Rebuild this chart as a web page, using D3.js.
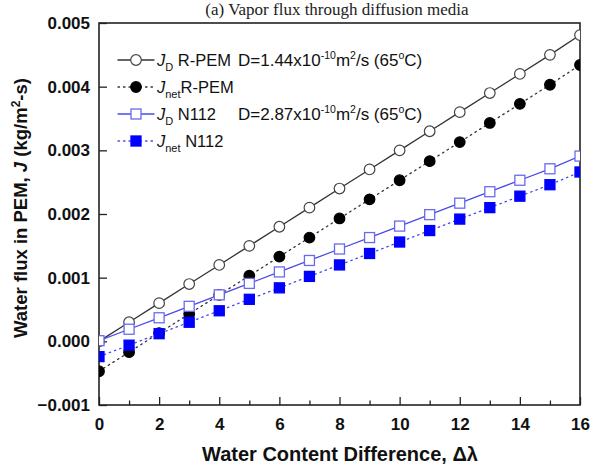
<!DOCTYPE html>
<html><head><meta charset="utf-8">
<script src="https://cdn.jsdelivr.net/npm/d3@7/dist/d3.min.js"></script>
<style>
body{margin:0;background:#fff;}
svg{display:block;font-family:"Liberation Sans",Arial,sans-serif;}
</style></head>
<body><svg id="c" width="592" height="467"></svg>
<script>
const xValues = [0,1,2,3,4,5,6,7,8,9,10,11,12,13,14,15,16];
const jdRPEM  = [0.00000,0.00030,0.00060,0.00090,0.00120,0.00150,0.00180,0.00210,0.00240,0.00270,0.00300,0.00330,0.00360,0.00390,0.00420,0.00450,0.00481];
const jnetRPEM= [-0.00047,-0.00017,0.00013,0.00043,0.00073,0.00103,0.00133,0.00163,0.00193,0.00223,0.00253,0.00283,0.00313,0.00343,0.00373,0.00403,0.00434];
const jdN112  = [0.00001,0.00019,0.00037,0.00055,0.00073,0.00091,0.00109,0.00127,0.00145,0.00163,0.00181,0.00199,0.00217,0.00235,0.00253,0.00271,0.00291];
const jnetN112= [-0.00024,-0.00006,0.00012,0.00030,0.00048,0.00066,0.00084,0.00102,0.00120,0.00138,0.00156,0.00174,0.00192,0.00210,0.00228,0.00246,0.00266];
const xTicks = [0,2,4,6,8,10,12,14,16];
const xMinor = [1,3,5,7,9,11,13,15];
const yTicks = [-0.001,0.000,0.001,0.002,0.003,0.004,0.005];

const svg = d3.select("#c");
const L=99, R=580, T=23, B=405;
const x = d3.scaleLinear().domain([0,16]).range([L,R]);
const y = d3.scaleLinear().domain([-0.001,0.005]).range([B,T]);

// title
svg.append("text").attr("x",337).attr("y",15).attr("text-anchor","middle")
  .attr("font-family","'Liberation Serif','Times New Roman',serif").attr("font-size",17)
  .attr("fill","#222").text("(a)  Vapor flux through diffusion media");

// axes
const xAxis = d3.axisBottom(x).tickValues(xTicks).tickSize(-8).tickPadding(13).tickFormat(d3.format("d"));
const gx = svg.append("g").attr("transform",`translate(0,${B})`).call(xAxis);
gx.select(".domain").remove();
gx.selectAll("text").attr("font-size",17).attr("font-weight","bold").attr("fill","#111").attr("font-family","'Liberation Sans',Arial,sans-serif");
gx.selectAll("line").attr("stroke","#222").attr("stroke-width",1.3);
const gxm = svg.append("g").attr("transform",`translate(0,${B})`)
  .call(d3.axisBottom(x).tickValues(xMinor).tickSize(-4.5).tickFormat(""));
gxm.select(".domain").remove();
gxm.selectAll("line").attr("stroke","#222").attr("stroke-width",1.3);

const yAxis = d3.axisLeft(y).tickValues(yTicks).tickSize(-8).tickPadding(9).tickFormat(d3.format(".3f"));
const gy = svg.append("g").attr("transform",`translate(${L},0)`).call(yAxis);
gy.select(".domain").remove();
gy.selectAll("text").attr("font-size",17).attr("font-weight","bold").attr("fill","#111").attr("font-family","'Liberation Sans',Arial,sans-serif");
gy.selectAll("line").attr("stroke","#222").attr("stroke-width",1.3);

// frame
svg.append("rect").attr("x",L).attr("y",T).attr("width",R-L).attr("height",B-T)
  .attr("fill","none").attr("stroke","#222").attr("stroke-width",1.6);

// axis titles
svg.append("text").attr("x",340).attr("y",461).attr("text-anchor","middle")
  .attr("font-size",20).attr("font-weight","bold").attr("fill","#111")
  .text("Water Content Difference, Δλ");
const yt = svg.append("text").attr("transform","translate(27,208) rotate(-90)")
  .attr("text-anchor","middle").attr("font-size",18.5).attr("font-weight","bold").attr("fill","#111");
yt.append("tspan").text("Water flux in PEM, ");
yt.append("tspan").attr("font-style","italic").text("J");
yt.append("tspan").text("  (kg/m");
yt.append("tspan").attr("font-size",12).attr("dy",-7).text("2");
yt.append("tspan").attr("dy",7).text("-s)");

const series = [
  {vals:jdRPEM,  line:"#333", dash:null,  shape:"circle", fill:"#fff", stroke:"#444"},
  {vals:jnetRPEM,line:"#333", dash:"1.5,4", shape:"circle", fill:"#000", stroke:"#000"},
  {vals:jdN112,  line:"#4a4ae8", dash:null,  shape:"square", fill:"#fff", stroke:"#6a6af0"},
  {vals:jnetN112,line:"#4a4ae8", dash:"1.5,4", shape:"square", fill:"#0000ff", stroke:"#0000ff"}
];
const clip = svg.append("clipPath").attr("id","pc").append("rect").attr("x",L).attr("y",T).attr("width",R-L).attr("height",B-T);
const line = d3.line().x((d,i)=>x(xValues[i])).y(d=>y(d));

function marker(g, s, cx, cy){
  if(s.shape==="circle"){
    g.append("circle").attr("cx",cx).attr("cy",cy).attr("r",5.3)
      .attr("fill",s.fill).attr("stroke",s.stroke).attr("stroke-width",1.2);
  } else {
    g.append("rect").attr("x",cx-5).attr("y",cy-5).attr("width",10).attr("height",10)
      .attr("fill",s.fill).attr("stroke",s.stroke).attr("stroke-width",1.3);
  }
}
const plotG = svg.append("g").attr("clip-path","url(#pc)");
series.forEach(s=>{
  plotG.append("path").datum(s.vals).attr("d",line).attr("fill","none")
    .attr("stroke",s.line).attr("stroke-width",1.3)
    .attr("stroke-dasharray",s.dash).attr("stroke-linecap","round");
});
series.forEach(s=>{
  const g = plotG.append("g");
  s.vals.forEach((v,i)=>marker(g,s,x(xValues[i]),y(v)));
});

// legend
const legendRows = [
  {sub:"D", name:" R-PEM", extra:"D=1.44x10", sup1:"-10", unit:"m", sup2:"2", tail:"/s (65", sup3:"o", end:"C)"},
  {sub:"net", name:"R-PEM"},
  {sub:"D", name:" N112", extra:"D=2.87x10", sup1:"-10", unit:"m", sup2:"2", tail:"/s (65", sup3:"o", end:"C)"},
  {sub:"net", name:" N112"}
];
const rowY = [60,87,114,141];
legendRows.forEach((r,i)=>{
  const s = series[i], yy = rowY[i];
  svg.append("line").attr("x1",118).attr("x2",154).attr("y1",yy).attr("y2",yy)
    .attr("stroke",s.line).attr("stroke-width",1.3).attr("stroke-dasharray",s.dash).attr("stroke-linecap","round");
  marker(svg,s,136,yy);
  const t = svg.append("text").attr("x",157).attr("y",yy+6).attr("font-size",16.5).attr("fill","#111");
  t.append("tspan").attr("font-style","italic").text("J");
  t.append("tspan").attr("font-size",11).attr("dy",5).text(r.sub);
  t.append("tspan").attr("dy",-5).text(r.name);
  if(r.extra){
    const t2 = svg.append("text").attr("x",238).attr("y",yy+6).attr("font-size",17).attr("fill","#111");
    t2.append("tspan").text(r.extra);
    t2.append("tspan").attr("font-size",10.5).attr("dy",-7).text(r.sup1);
    t2.append("tspan").attr("dy",7).text(r.unit);
    t2.append("tspan").attr("font-size",10.5).attr("dy",-7).text(r.sup2);
    t2.append("tspan").attr("dy",7).text(r.tail);
    t2.append("tspan").attr("font-size",10.5).attr("dy",-7).text(r.sup3);
    t2.append("tspan").attr("dy",7).text(r.end);
  }
});
</script></body></html>
